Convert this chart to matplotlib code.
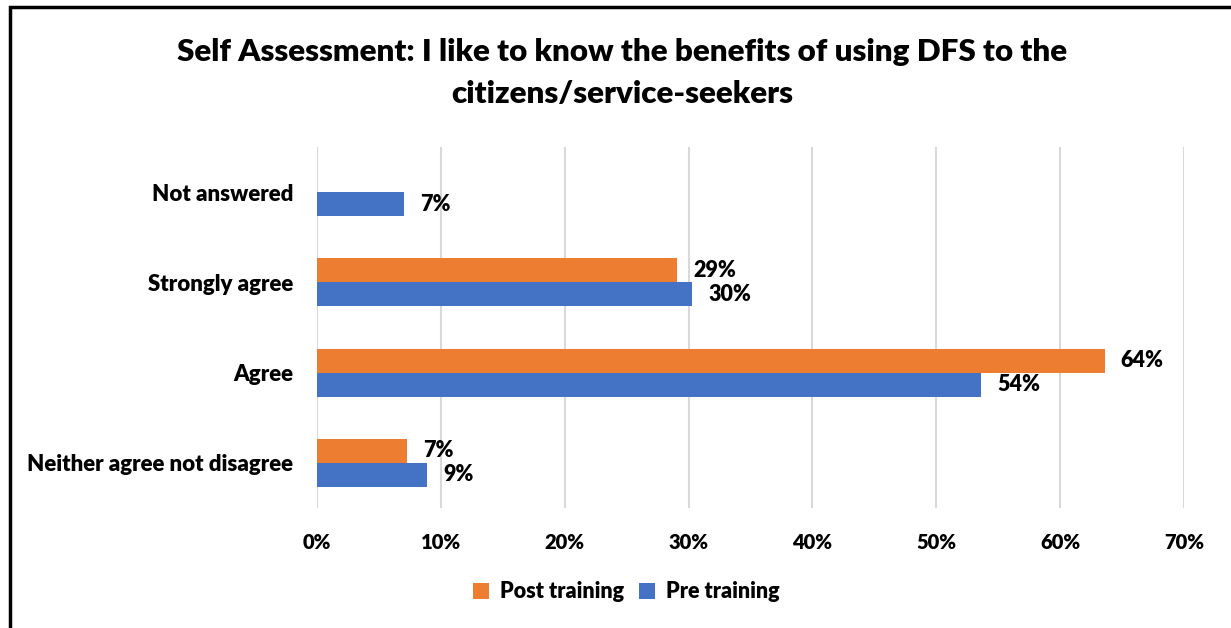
import matplotlib
matplotlib.use("Agg")
import matplotlib.pyplot as plt
import numpy as np

categories = ["Not answered", "Strongly agree", "Agree", "Neither agree not disagree"]
post_training = [np.nan, 29.1, 63.6, 7.3]
pre_training = [7.0, 30.3, 53.6, 8.9]
x_ticks = [0, 10, 20, 30, 40, 50, 60, 70]
title = "Self Assessment: I like to know the benefits of using DFS to the\ncitizens/service-seekers"

ORANGE = "#ED7D31"
BLUE = "#4472C4"
GRID = "#D9D9D9"
FONT = ["Lato", "DejaVu Sans"]
WEIGHT = "heavy"

plt.rcParams["font.family"] = FONT
plt.rcParams["font.weight"] = WEIGHT

W, H = 1231, 628
fig = plt.figure(figsize=(W / 100, H / 100), dpi=100)
fig.patch.set_facecolor("white")

# outer frame of the chart area
frame = plt.Rectangle((10 / W, -0.05), 1.2, 1 - 7 / H + 0.05, transform=fig.transFigure,
                      fill=False, edgecolor="black", linewidth=2.5)
fig.patches.append(frame)

ax = fig.add_axes([317 / W, 1 - 508 / H, (1184 - 317) / W, (508 - 147) / H])

y = np.arange(len(categories))
h = 0.265
post_bars = ax.barh(y - h / 2, post_training, height=h, color=ORANGE, label="Post training")
pre_bars = ax.barh(y + h / 2, pre_training, height=h, color=BLUE, label="Pre training")

for bars, vals in ((post_bars, post_training), (pre_bars, pre_training)):
    for bar, v in zip(bars, vals):
        if np.isnan(v):
            continue
        ax.annotate(f"{v:.0f}%", xy=(v, bar.get_y() + bar.get_height() / 2),
                    xytext=(16, 0), textcoords="offset pixels",
                    ha="left", va="center", fontsize=15.5, fontweight=WEIGHT)

ax.set_xlim(0, 70)
ax.set_ylim(len(categories) - 0.5, -0.5)
ax.set_xticks(x_ticks)
ax.set_xticklabels([f"{t}%" for t in x_ticks])
ax.set_yticks(y)
ax.set_yticklabels(categories)
ax.tick_params(axis="x", length=0, pad=18, labelsize=14.5)
ax.tick_params(axis="y", length=0, pad=17, labelsize=16)
for lab in ax.get_xticklabels() + ax.get_yticklabels():
    lab.set_fontweight(WEIGHT)

ax.grid(axis="x", color=GRID, linewidth=1.5)
ax.set_axisbelow(True)
for s in ax.spines.values():
    s.set_visible(False)

fig.text(622 / W, 1 - 73 / H, title, ha="center", va="center", fontsize=22.6,
         fontweight=WEIGHT, linespacing=1.58)

handles, labels = ax.get_legend_handles_labels()
fig.legend(handles, labels, loc="center", bbox_to_anchor=(626 / W, 1 - 592 / H), ncol=2,
           frameon=False, prop={"family": FONT, "weight": WEIGHT, "size": 15.5},
           handlelength=0.75, handleheight=0.75, handletextpad=0.5, columnspacing=0.7)

fig.savefig("out.png", dpi=100)
